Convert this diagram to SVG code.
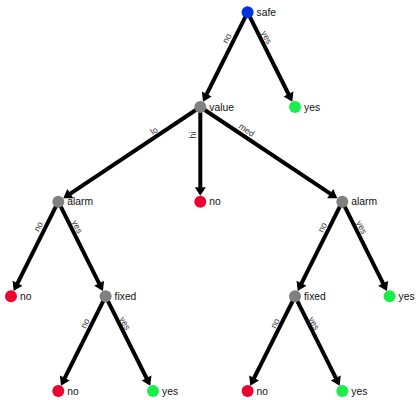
<svg xmlns="http://www.w3.org/2000/svg" width="416" height="400" viewBox="0 0 416 400">
<style>
.bg{fill:#ffffff}
.edge{stroke:#000;stroke-width:4;fill:none;marker-end:url(#arrow)}
.nd{stroke:none}
.dec{fill:#0033dd}
.attr{fill:#808080}
.no{fill:#f00030}
.yes{fill:#1aee4c}
.nl{font-family:"Liberation Sans",Arial,sans-serif;font-size:10.3px;fill:#111}
.el{font-family:"Liberation Sans",Arial,sans-serif;font-size:8.7px;fill:#333;text-anchor:middle;dominant-baseline:central}
</style>
<defs>
<marker id="arrow" markerUnits="userSpaceOnUse" markerWidth="10" markerHeight="12" viewBox="0 -6 9 12" refX="0.5" refY="0" orient="auto">
<path d="M0,-5.5 L8.5,0 L0,5.5 z" fill="#000"/>
</marker>
</defs>
<rect class="bg" x="0" y="0" width="416" height="400"/>
<g id="connectors">
<line class="edge" x1="247.6" y1="12.3" x2="206.56" y2="94.48"/>
<line class="edge" x1="247.6" y1="12.3" x2="288.73" y2="94.48"/>
<line class="edge" x1="200.3" y1="107" x2="69.95" y2="193.93"/>
<line class="edge" x1="200.3" y1="107" x2="200.3" y2="187.7"/>
<line class="edge" x1="200.3" y1="107" x2="330.65" y2="193.93"/>
<line class="edge" x1="58.3" y1="201.7" x2="17.26" y2="283.78"/>
<line class="edge" x1="58.3" y1="201.7" x2="99.34" y2="283.78"/>
<line class="edge" x1="342.3" y1="201.7" x2="301.26" y2="283.78"/>
<line class="edge" x1="342.3" y1="201.7" x2="383.34" y2="283.78"/>
<line class="edge" x1="105.6" y1="296.3" x2="64.56" y2="378.48"/>
<line class="edge" x1="105.6" y1="296.3" x2="146.73" y2="378.48"/>
<line class="edge" x1="295" y1="296.3" x2="253.87" y2="378.48"/>
<line class="edge" x1="295" y1="296.3" x2="336.04" y2="378.48"/>
<text class="el" x="226.7" y="38.3" transform="rotate(-63.4 226.7 38.3)">no</text>
<text class="el" x="266.7" y="37.3" transform="rotate(63.4 266.7 37.3)">yes</text>
<text class="el" x="154" y="130.7" transform="rotate(-33.7 154 130.7)">lo</text>
<text class="el" x="192.7" y="135" transform="rotate(-90 192.7 135)">hi</text>
<text class="el" x="246.7" y="130" transform="rotate(33.7 246.7 130)">med</text>
<text class="el" x="38.3" y="226.7" transform="rotate(-63.4 38.3 226.7)">no</text>
<text class="el" x="77.3" y="226.7" transform="rotate(63.4 77.3 226.7)">yes</text>
<text class="el" x="322.3" y="227.3" transform="rotate(-63.4 322.3 227.3)">no</text>
<text class="el" x="361.7" y="227.3" transform="rotate(63.4 361.7 227.3)">yes</text>
<text class="el" x="85" y="323.3" transform="rotate(-63.4 85 323.3)">no</text>
<text class="el" x="125" y="323.3" transform="rotate(63.4 125 323.3)">yes</text>
<text class="el" x="275" y="323.3" transform="rotate(-63.4 275 323.3)">no</text>
<text class="el" x="314" y="323.3" transform="rotate(63.4 314 323.3)">yes</text>
</g>
<g id="n-safe"><circle class="nd dec" cx="247.6" cy="12.3" r="6"/><text class="nl" x="256.6" y="15.9">safe</text></g>
<g id="n-value"><circle class="nd attr" cx="200.3" cy="107" r="6"/><text class="nl" x="209.3" y="110.6">value</text></g>
<g id="n-yes1"><circle class="nd yes" cx="295" cy="107" r="6"/><text class="nl" x="304" y="110.6">yes</text></g>
<g id="n-alarmL"><circle class="nd attr" cx="58.3" cy="201.7" r="6"/><text class="nl" x="67.3" y="205.3">alarm</text></g>
<g id="n-no1"><circle class="nd no" cx="200.3" cy="201.7" r="6"/><text class="nl" x="209.3" y="205.3">no</text></g>
<g id="n-alarmR"><circle class="nd attr" cx="342.3" cy="201.7" r="6"/><text class="nl" x="351.3" y="205.3">alarm</text></g>
<g id="n-noL"><circle class="nd no" cx="11" cy="296.3" r="6"/><text class="nl" x="20" y="299.9">no</text></g>
<g id="n-fixedL"><circle class="nd attr" cx="105.6" cy="296.3" r="6"/><text class="nl" x="114.6" y="299.9">fixed</text></g>
<g id="n-fixedR"><circle class="nd attr" cx="295" cy="296.3" r="6"/><text class="nl" x="304" y="299.9">fixed</text></g>
<g id="n-yesR"><circle class="nd yes" cx="389.6" cy="296.3" r="6"/><text class="nl" x="398.6" y="299.9">yes</text></g>
<g id="n-noLL"><circle class="nd no" cx="58.3" cy="391" r="6"/><text class="nl" x="67.3" y="394.6">no</text></g>
<g id="n-yesLL"><circle class="nd yes" cx="153" cy="391" r="6"/><text class="nl" x="162" y="394.6">yes</text></g>
<g id="n-noRR"><circle class="nd no" cx="247.6" cy="391" r="6"/><text class="nl" x="256.6" y="394.6">no</text></g>
<g id="n-yesRR"><circle class="nd yes" cx="342.3" cy="391" r="6"/><text class="nl" x="351.3" y="394.6">yes</text></g>
</svg>
